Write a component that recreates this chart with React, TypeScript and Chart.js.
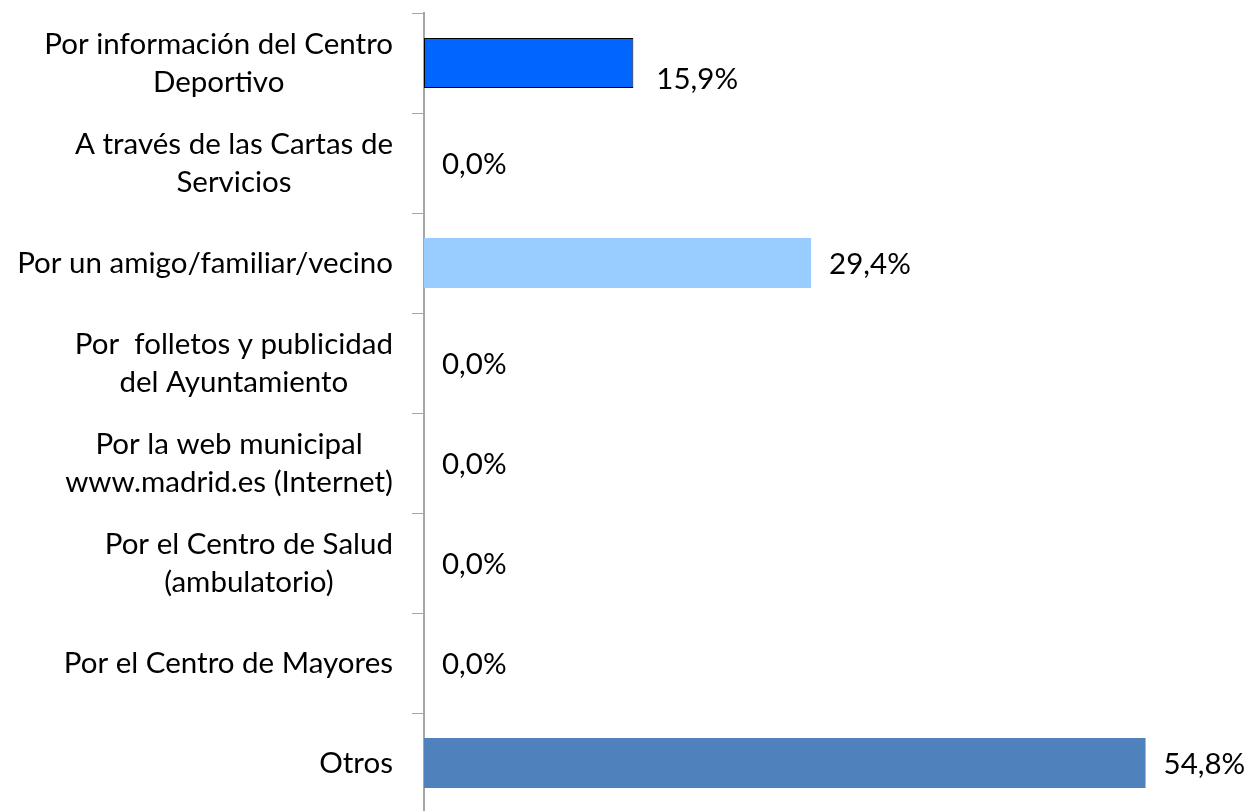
import React, { useEffect, useRef } from "react";
import { Chart, registerables } from "chart.js";

Chart.register(...registerables);

const categories: string[][] = [
  ["Por información del Centro", "Deportivo"],
  ["A través de las Cartas de", "Servicios"],
  ["Por un amigo/familiar/vecino"],
  ["Por  folletos y publicidad", "del Ayuntamiento"],
  ["Por la web municipal", "www.madrid.es (Internet)"],
  ["Por el Centro de Salud", "(ambulatorio)"],
  ["Por el Centro de Mayores"],
  ["Otros"],
];
const values: number[] = [15.9, 0, 29.4, 0, 0, 0, 0, 54.8];
const valueLabels: string[] = ["15,9%", "0,0%", "29,4%", "0,0%", "0,0%", "0,0%", "0,0%", "54,8%"];
const barColors: string[] = ["#0066FF", "#99CCFF", "#99CCFF", "#99CCFF", "#99CCFF", "#99CCFF", "#99CCFF", "#4F81BD"];
const borderColors: string[] = ["#000000", "rgba(0,0,0,0)", "rgba(0,0,0,0)", "rgba(0,0,0,0)", "rgba(0,0,0,0)", "rgba(0,0,0,0)", "rgba(0,0,0,0)", "rgba(0,0,0,0)"];
const borderWidths: number[] = [1, 0, 0, 0, 0, 0, 0, 0];

const FONT = "Lato, 'Noto Sans', sans-serif";
const FONT_SIZE = 29.5;

const labelPlugin = {
  id: "customLabels",
  afterDraw(chart: any) {
    const ctx = chart.ctx;
    const yScale = chart.scales.y;
    const meta = chart.getDatasetMeta(0);
    ctx.save();
    ctx.font = `${FONT_SIZE}px ${FONT}`;
    ctx.fillStyle = "#000000";
    ctx.textBaseline = "middle";
    const lineH = 38;
    const rightEdge = chart.chartArea.left - 31;
    categories.forEach((lines, i) => {
      const yc = yScale.getPixelForValue(i);
      const maxW = Math.max(...lines.map((l) => ctx.measureText(l).width));
      const cx = rightEdge - maxW / 2;
      ctx.textAlign = "center";
      lines.forEach((l, k) => {
        const y = yc + (k - (lines.length - 1) / 2) * lineH;
        ctx.fillText(l, cx, y);
      });
    });
    ctx.textAlign = "left";
    meta.data.forEach((bar: any, i: number) => {
      const extra = i === 0 ? 5 : 0;
      const dy = i === 0 ? 16 : 1;
      ctx.fillText(valueLabels[i], bar.x + 18 + extra, bar.y + dy);
    });
    ctx.restore();
  },
};

export default function App() {
  const ref = useRef<HTMLCanvasElement>(null);
  useEffect(() => {
    if (!ref.current) return;
    const chart = new Chart(ref.current, {
      type: "bar",
      data: {
        labels: categories.map((c) => c.join(" ")),
        datasets: [
          {
            data: values,
            backgroundColor: barColors,
            borderColor: borderColors,
            borderWidth: borderWidths,
            borderSkipped: false,
            categoryPercentage: 0.5,
            barPercentage: 1,
          },
        ],
      },
      options: {
        indexAxis: "y",
        animation: false,
        responsive: false,
        maintainAspectRatio: false,
        layout: { padding: { left: 0, right: 31, top: 13, bottom: 0 } },
        plugins: { legend: { display: false }, tooltip: { enabled: false } },
        scales: {
          x: { display: false, min: 0, max: 60 },
          y: {
            position: "left",
            offset: true,
            ticks: { display: false },
            grid: {
              display: true,
              offset: true,
              drawOnChartArea: false,
              drawTicks: true,
              tickLength: 12,
              color: "#A6A6A6",
              lineWidth: 1,
            },
            border: { display: true, color: "#A6A6A6", width: 2 },
            afterFit: (scale: any) => {
              scale.width = 424;
            },
          },
        },
      },
      plugins: [labelPlugin],
    });
    return () => chart.destroy();
  }, []);
  return (
    <div style={{ position: "fixed", left: 0, top: 0, width: 1245, height: 813, background: "#fff" }}>
      <canvas ref={ref} width={1245} height={813} style={{ width: 1245, height: 813, display: "block" }} />
    </div>
  );
}
